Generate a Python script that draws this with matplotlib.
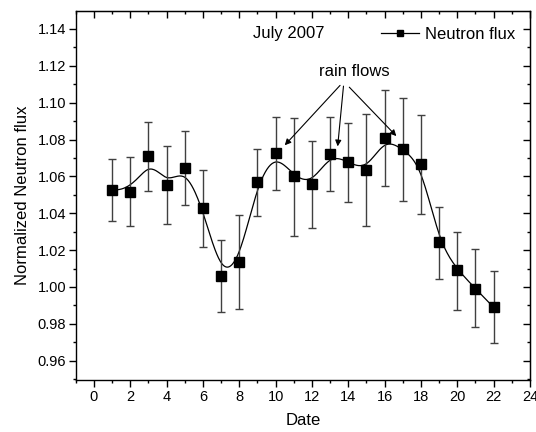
import matplotlib
matplotlib.use("Agg")
import matplotlib.pyplot as plt
import numpy as np

plt.rcParams["font.family"] = ["Liberation Sans", "DejaVu Sans"]

# data
date = np.arange(1, 23)
flux = [1.0528, 1.0516, 1.0709, 1.0552, 1.0648, 1.0427, 1.0058, 1.0134, 1.0568, 1.0725, 1.0600,
        1.0559, 1.0722, 1.0677, 1.0633, 1.0807, 1.0747, 1.0666, 1.0242, 1.0090, 0.9991, 0.9889]
err_up = [0.0167, 0.0191, 0.0185, 0.0212, 0.0197, 0.0206, 0.0195, 0.0255, 0.0179, 0.0198, 0.0318,
          0.0235, 0.0199, 0.0213, 0.0307, 0.0261, 0.0277, 0.0266, 0.0192, 0.0210, 0.0213, 0.0196]
err_lo = [0.0168, 0.0187, 0.0188, 0.0208, 0.0201, 0.0210, 0.0196, 0.0254, 0.0181, 0.0197, 0.0325,
          0.0239, 0.0199, 0.0217, 0.0304, 0.0261, 0.0278, 0.0268, 0.0197, 0.0213, 0.0211, 0.0193]


# clamped cubic B-spline with the points as control points (Origin "B-Spline" line)
def bspline(px, py, n_out=400):
    n = len(px)
    k = 3
    knots = np.concatenate([np.zeros(k), np.arange(n - k + 1), np.full(k, n - k)]).astype(float)
    t = np.linspace(0, n - k, n_out)
    t[-1] -= 1e-9
    B = np.zeros((n_out, len(knots) - 1))
    for i in range(len(knots) - 1):
        B[:, i] = ((t >= knots[i]) & (t < knots[i + 1])).astype(float)
    for d in range(1, k + 1):
        Bn = np.zeros((n_out, len(knots) - 1 - d))
        for i in range(len(knots) - 1 - d):
            a = knots[i + d] - knots[i]
            b = knots[i + d + 1] - knots[i + 1]
            term = np.zeros(n_out)
            if a > 0:
                term += (t - knots[i]) / a * B[:, i]
            if b > 0:
                term += (knots[i + d + 1] - t) / b * B[:, i + 1]
            Bn[:, i] = term
        B = Bn
    return B @ np.asarray(px, float), B @ np.asarray(py, float)


sx, sy = bspline(date, flux)

fig = plt.figure(figsize=(5.36, 4.32), dpi=100)
ax = fig.add_axes([0.1413, 0.1204, 0.8475, 0.853])

ax.plot(sx, sy, color="black", lw=0.9)
ax.errorbar(date, flux, yerr=[err_lo, err_up], fmt="none", ecolor="0.25", elinewidth=1.0,
            capsize=3, capthick=1.0)
ax.plot(date, flux, "s", color="black", ms=6.5)

# legend entry: line-square-line
ax.plot([], [], "-s", color="black", ms=5, lw=0.9, label="Neutron flux")
ax.legend(loc="upper right", frameon=False, fontsize=12, handlelength=2.3,
          bbox_to_anchor=(0.99, 0.985), borderaxespad=0.2, handletextpad=0.35)

ax.text(10.74, 1.1375, "July 2007", ha="center", va="center", fontsize=12)
ax.text(14.33, 1.1168, "rain flows", ha="center", va="center", fontsize=12)
arrow = dict(arrowstyle="-|>", color="black", lw=0.8, mutation_scale=9)
ax.annotate("", xy=(10.4, 1.0758), xytext=(13.65, 1.1105), arrowprops=arrow)
ax.annotate("", xy=(13.4, 1.0748), xytext=(13.75, 1.1105), arrowprops=arrow)
ax.annotate("", xy=(16.75, 1.0808), xytext=(13.95, 1.1095), arrowprops=arrow)

ax.set_xlim(-1, 24)
ax.set_ylim(0.9495, 1.1495)
ax.set_xticks(np.arange(0, 25, 2))
ax.set_xticks(np.arange(-1, 25, 1), minor=True)
ax.set_yticks(np.arange(0.96, 1.141, 0.02))
ax.set_yticks(np.arange(0.95, 1.15, 0.01), minor=True)
ax.yaxis.set_major_formatter(matplotlib.ticker.FormatStrFormatter("%.2f"))
ax.tick_params(which="both", direction="out", labelsize=10.5, width=1.0, pad=2)
ax.tick_params(which="major", length=5)
ax.tick_params(which="minor", length=2.5)

# inward ticks on top and right
top = ax.secondary_xaxis("top")
top.set_xticks(np.arange(0, 25, 2))
top.set_xticks(np.arange(-1, 25, 1), minor=True)
top.tick_params(which="both", direction="in", labeltop=False, width=1.0)
top.tick_params(which="major", length=5)
top.tick_params(which="minor", length=2.5)
right = ax.secondary_yaxis("right")
right.set_yticks(np.arange(0.96, 1.141, 0.02))
right.set_yticks(np.arange(0.95, 1.15, 0.01), minor=True)
right.tick_params(which="both", direction="in", labelright=False, width=1.0)
right.tick_params(which="major", length=5)
right.tick_params(which="minor", length=2.5)

for s in ax.spines.values():
    s.set_linewidth(1.0)

ax.set_xlabel("Date", fontsize=12, labelpad=7)
ax.set_ylabel("Normalized Neutron flux", fontsize=12, labelpad=5)

fig.savefig("out.png", dpi=100)
